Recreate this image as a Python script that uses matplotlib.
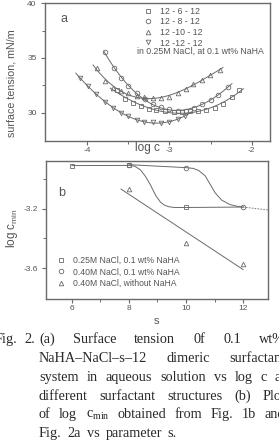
import numpy as np
import matplotlib
matplotlib.use("Agg")
import matplotlib.pyplot as plt
from matplotlib.lines import Line2D

# ---------------- data ----------------
# Panel a: surface tension vs log c
logc_6 = [-3.64, -3.54, -3.44, -3.35, -3.25, -3.16, -3.05, -2.95, -2.85, -2.75, -2.65, -2.55, -2.45, -2.35, -2.24, -2.15]
st_6 = [32.05, 31.25, 30.9, 30.6, 30.35, 30.25, 30.1, 30.05, 30.05, 30.1, 30.15, 30.25, 30.4, 30.8, 31.4, 32.05]
logc_8 = [-3.78, -3.68, -3.59, -3.50, -3.40, -3.30, -3.20, -3.10, -3.00, -2.90, -2.80, -2.70, -2.61, -2.50, -2.41, -2.29]
st_8 = [35.5, 34.05, 33.2, 32.45, 31.75, 31.2, 30.8, 30.5, 30.3, 30.15, 30.15, 30.4, 30.8, 31.15, 31.65, 32.3]
logc_10 = [-3.88, -3.79, -3.69, -3.59, -3.50, -3.40, -3.31, -3.20, -3.10, -3.00, -2.90, -2.80, -2.71, -2.61, -2.51, -2.39]
st_10 = [34.1, 32.9, 32.25, 31.95, 31.75, 31.55, 31.4, 31.3, 31.35, 31.45, 31.75, 32.2, 32.6, 33.0, 33.4, 33.9]
logc_12 = [-4.09, -3.99, -3.89, -3.79, -3.69, -3.59, -3.50, -3.40, -3.31, -3.20, -3.10, -3.00, -2.90, -2.81]
st_12 = [33.15, 32.45, 31.7, 31.0, 30.45, 30.0, 29.65, 29.35, 29.15, 29.1, 29.05, 29.1, 29.45, 29.7]
fit_range = {"6": (-3.72, -2.10), "8": (-3.80, -2.24), "10": (-3.93, -2.35), "12": (-4.14, -2.73)}
labels_a = ["12 - 6 - 12", "12 - 8 - 12", "12 -10 - 12", "12 -12 - 12"]

# Panel b: log c_min vs s
s_a = [6, 8, 10]
lc_a = [-2.906, -2.905, -3.19]
s_b = [8, 10, 12]
lc_b = [-2.90, -2.92, -3.187]
s_c = [8, 10, 12]
lc_c = [-3.064, -3.43, -3.573]
guide_a_s = [6.0, 8.0, 8.2, 8.4, 8.58, 8.76, 8.94, 9.11, 9.25, 9.4, 9.6, 10.0, 12.0]
guide_a_y = [-2.906, -2.905, -2.91, -2.935, -2.98, -3.04, -3.11, -3.155, -3.175, -3.185, -3.19, -3.19, -3.187]
guide_b_s = [8.0, 10.0, 10.25, 10.45, 10.67, 10.84, 11.02, 11.25, 11.54, 11.8, 12.0]
guide_b_y = [-2.90, -2.92, -2.925, -2.94, -2.975, -3.03, -3.09, -3.14, -3.17, -3.182, -3.187]
dash_s = [12.0, 12.88]
dash_y = [-3.187, -3.207]
line_c_range = (7.72, 12.0)
labels_b = ["0.25M NaCl, 0.1 wt% NaHA", "0.40M NaCl, 0.1 wt% NaHA", "0.40M NaCl, without NaHA"]

caption = [
    ["(a)", "Surface", "tension", "0f", "0.1", "wt%"],
    ["NaHA\u2013NaCl\u2013s\u201312", "dimeric", "surfactant"],
    ["system", "in", "aqueous", "solution", "vs", "log", "c", "at"],
    ["different", "surfactant", "structures", "(b)", "Plot"],
    ["of", "log", r"c$_{\mathregular{min}}$", "obtained", "from", "Fig.", "1b", "and"],
    ["Fig.", "2a", "vs", "parameter", "s."],
]

# ---------------- style ----------------
W, H = 279, 443
GRAY = "#6a6a6a"
TXT = "#555555"
plt.rcParams["font.family"] = ["Liberation Sans", "DejaVu Sans"]
plt.rcParams["axes.edgecolor"] = GRAY
plt.rcParams["axes.linewidth"] = 1.0

fig = plt.figure(figsize=(W / 100, H / 100), dpi=100)
fig.patch.set_facecolor("white")


def box(l, t, r, b):
    return [l / W, 1 - b / H, (r - l) / W, (b - t) / H]


def style_ax(ax):
    ax.tick_params(which="major", direction="out", length=3, width=0.8, color=GRAY,
                   labelsize=6, labelcolor=TXT, pad=1.5)
    ax.tick_params(axis="y", which="major", pad=3)
    ax.tick_params(which="minor", direction="out", length=2, width=0.7, color=GRAY)
    for sp in ax.spines.values():
        sp.set_color(GRAY)


mk = dict(mfc="none", mec=GRAY, ms=3.3, mew=0.6, ls="none")

# ---------------- panel a ----------------
axa = fig.add_axes(box(45, 3.3, 270, 141))
style_ax(axa)
series = [(logc_6, st_6, "s", "6"), (logc_8, st_8, "o", "8"),
          (logc_10, st_10, "^", "10"), (logc_12, st_12, "v", "12")]
handles = []
for (x, y, m, key), lab in zip(series, labels_a):
    coef = np.polyfit(x, y, 3)
    xx = np.linspace(*fit_range[key], 200)
    axa.plot(xx, np.polyval(coef, xx), color=GRAY, lw=0.7)
    axa.plot(x, y, marker=m, **mk)
    handles.append(Line2D([], [], marker=m, **mk, label=lab))
axa.set_xlim(-4.515, -1.777)
axa.set_ylim(27.4, 40)
axa.set_xticks([-4, -3, -2])
axa.set_xticklabels(["-4", "", "-2"])
axa.set_xticks([-3.5, -2.5], minor=True)
axa.set_yticks([30, 35, 40])
axa.set_yticks([32.5, 37.5], minor=True)
leg = axa.legend(handles=handles, loc="upper left", bbox_to_anchor=((140 - 45) / 225, 1.0),
                 frameon=False, fontsize=6.3, handlelength=1.0, handletextpad=0.9,
                 labelspacing=0.18, borderaxespad=0.3, borderpad=0.1)
for t in leg.get_texts():
    t.set_color(TXT)
fig.text(200 / W, 1 - 51.5 / H, "in 0.25M NaCl, at 0.1 wt% NaHA", ha="center", va="center",
         fontsize=6.3, color=TXT)
fig.text(64 / W, 1 - 19 / H, "a", ha="center", va="center", fontsize=9, color=TXT)
fig.text(12 / W, 1 - 83 / H, "surface tension, mN/m", rotation=90, ha="center", va="center",
         fontsize=7.7, color=TXT)
fig.text(147 / W, 1 - 148 / H, "log c", ha="center", va="center", fontsize=8.5, color=TXT)
fig.text(169 / W, 1 - 151 / H, "-3", ha="center", va="center", fontsize=6, color=TXT)

# ---------------- panel b ----------------
axb = fig.add_axes(box(46, 160.7, 268, 299))
style_ax(axb)
axb.plot(guide_a_s, guide_a_y, color=GRAY, lw=0.7)
axb.plot(guide_b_s, guide_b_y, color=GRAY, lw=0.7)
axb.plot(dash_s, dash_y, color=GRAY, lw=0.6, ls=(0, (2, 1.5)))
cc = np.polyfit(s_c, lc_c, 1)
xs = np.linspace(*line_c_range, 10)
axb.plot(xs, np.polyval(cc, xs), color=GRAY, lw=0.7)
h1, = axb.plot(s_a, lc_a, marker="s", **mk, label=labels_b[0])
h2, = axb.plot(s_b, lc_b, marker="o", **mk, label=labels_b[1])
h3, = axb.plot(s_c, lc_c, marker="^", **mk, label=labels_b[2])
axb.set_xlim(5.088, 12.877)
axb.set_ylim(-3.810, -2.873)
axb.set_xticks([6, 8, 10, 12])
axb.set_xticks([7, 9, 11], minor=True)
axb.set_yticks([-3.6, -3.2])
axb.set_yticks([-3.4, -3.0], minor=True)
axb.set_yticklabels(["-3.6", "-3.2"])
legb = axb.legend(handles=[h1, h2, h3], loc="upper left",
                  bbox_to_anchor=((56 - 46) / 222, (299 - 255) / 138.3),
                  frameon=False, fontsize=6.2, handlelength=1.0, handletextpad=0.9,
                  labelspacing=0.3, borderaxespad=0.0, borderpad=0.1)
for t in legb.get_texts():
    t.set_color(TXT)
fig.text(62 / W, 1 - 193 / H, "b", ha="center", va="center", fontsize=9, color=TXT)
fig.text(12 / W, 1 - 228 / H, r"log c$_{\mathregular{min}}$", rotation=90, ha="center",
         va="center", fontsize=8.5, color=TXT)
fig.text(156 / W, 1 - 321 / H, "s", ha="center", va="center", fontsize=8, color=TXT)

# ---------------- caption (justified) ----------------
CAP = "#2a2a2a"
cap_kw = dict(fontsize=10.3, color=CAP, va="baseline", ha="left",
              family=["Liberation Serif", "DejaVu Serif"])
base = 3.6  # baseline offset below line centre, px
fig.text(17 / W, 1 - (339 + base) / H, "Fig.", **{**cap_kw, "ha": "right"})
fig.text(24 / W, 1 - (339 + base) / H, "2.", **cap_kw)
line_y = [339, 358, 377, 396, 414, 433]
line_x1 = [285, 285, 285, 285, 285, 177]
fig.canvas.draw()
rend = fig.canvas.get_renderer()
for words, y, x1 in zip(caption, line_y, line_x1):
    objs = [fig.text(0, 1 - (y + base) / H, w, **cap_kw) for w in words]
    widths = [o.get_window_extent(rend).width for o in objs]
    gap = (x1 - 39 - sum(widths)) / (len(words) - 1)
    x = 39
    for o, w in zip(objs, widths):
        o.set_x(x / W)
        x += w + gap

fig.savefig("out.png", dpi=100, facecolor="white")
